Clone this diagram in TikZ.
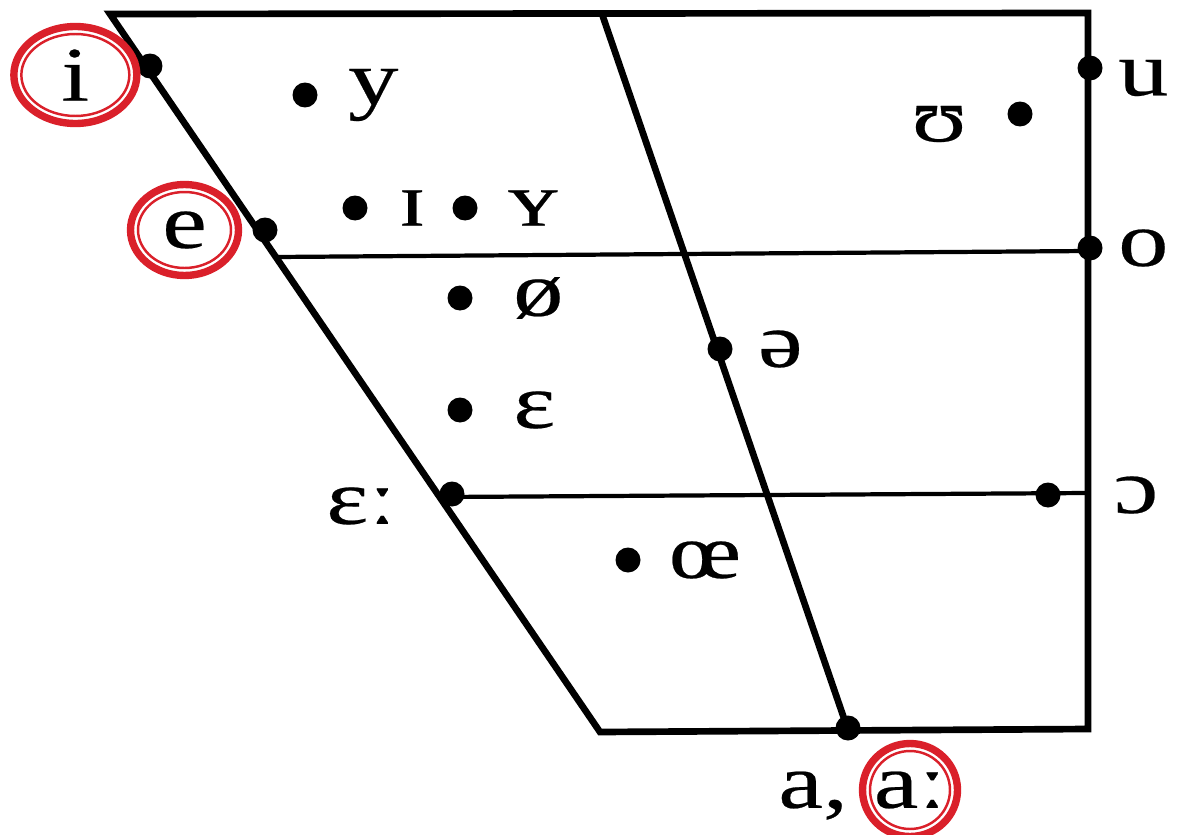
\documentclass[tikz,border=0pt]{standalone}
\usepackage{fontspec}
\setmainfont{Liberation Serif}[FakeStretch=1.3, FakeBold=0.3]
\usepackage{xcolor}
\definecolor{markred}{RGB}{218,32,42}
\usetikzlibrary{positioning}

\begin{document}
\begin{tikzpicture}[
  x=0.02cm, y=-0.02cm,
  node distance=0.6cm,
  dot/.style={circle, fill=black, inner sep=0pt, minimum size=0.5cm},
  sym/.style={inner sep=0pt, font=\fontsize{44}{50}\selectfont},
  edge/.style={line width=3.8pt, line join=miter},
  level/.style={line width=2.4pt},
  ringout/.style={draw=markred, line width=4.2pt},
  ringin/.style={draw=markred, line width=1.4pt}
]
\useasboundingbox (0,0) rectangle (1180,835);

% frame of the chart
\coordinate (tl) at (110,14);
\coordinate (tm) at (602,14);
\coordinate (tr) at (1088,13);
\coordinate (br) at (1088,729);
\coordinate (bm) at (848,730);
\coordinate (bl) at (600,732);
\coordinate (midl) at (276,257);
\coordinate (midr) at (1088,251);
\coordinate (lowl) at (445,497);
\coordinate (lowr) at (1088,493);

\draw[edge] (tr) -- (tl) -- (bl) -- (br) -- cycle;
\draw[edge] (tm) -- (bm);
\draw[level] (midl) -- (midr);
\draw[level] (lowl) -- (lowr);

% vowels
\node[dot] (i) at (150,66) {};
\node[dot] (e) at (265,230) {};
\node[dot] (epsl) at (452,494) {};
\node[dot] (a) at (848,728) {};
\node[dot] (y) at (305,95) {};
\node[dot] (smi) at (355,208) {};
\node[dot] (smy) at (465,208) {};
\node[dot] (oslash) at (460,298) {};
\node[dot] (eps) at (460,410) {};
\node[dot] (schwa) at (720,349) {};
\node[dot] (oe) at (628,560) {};
\node[dot] (u) at (1090,68) {};
\node[dot] (hu) at (1020,114) {};
\node[dot] (o) at (1090,248) {};
\node[dot] (oo) at (1048,495) {};

\node[sym, left=0.95cm of i, yshift=-0.18cm] (li) {i};
\node[sym, left=0.9cm of e] (le) {e};
\node[sym, left=0.85cm of epsl, yshift=-0.24cm] (lepsl) {ɛː};
\node[sym, right=of y] (ly) {y};
\node[sym, right=of smi] (lsmi) {ɪ};
\node[sym, right=of smy] (lsmy) {ʏ};
\node[sym, right=0.8cm of oslash] (loslash) {ø};
\node[sym, right=0.8cm of eps] (leps) {ɛ};
\node[sym, right=0.5cm of schwa] (lschwa) {ə};
\node[sym, right=0.55cm of oe] (loe) {œ};
\node[sym, right=0.3cm of u, yshift=-0.2cm] (lu) {u};
\node[sym, left=0.8cm of hu, yshift=-0.2cm] (lhu) {ʊ};
\node[sym, right=0.3cm of o] (lo) {o};
\node[sym, right=1.05cm of oo] (loo) {ɔ};
\node[sym] (laa) at (910,790) {aː};
\node[sym, base left=0.5cm of laa] (la) {a,};

% highlights
\draw[ringout] (li) ellipse [x radius=1.23cm, y radius=0.97cm];
\draw[ringin] (li) ellipse [x radius=1.08cm, y radius=0.82cm];
\draw[ringout] (le) ellipse [x radius=1.08cm, y radius=0.91cm];
\draw[ringin] (le) ellipse [x radius=0.93cm, y radius=0.76cm];
\draw[ringout] (laa) ellipse [x radius=0.95cm, y radius=0.93cm];
\draw[ringin] (laa) ellipse [x radius=0.8cm, y radius=0.78cm];
\end{tikzpicture}
\end{document}
